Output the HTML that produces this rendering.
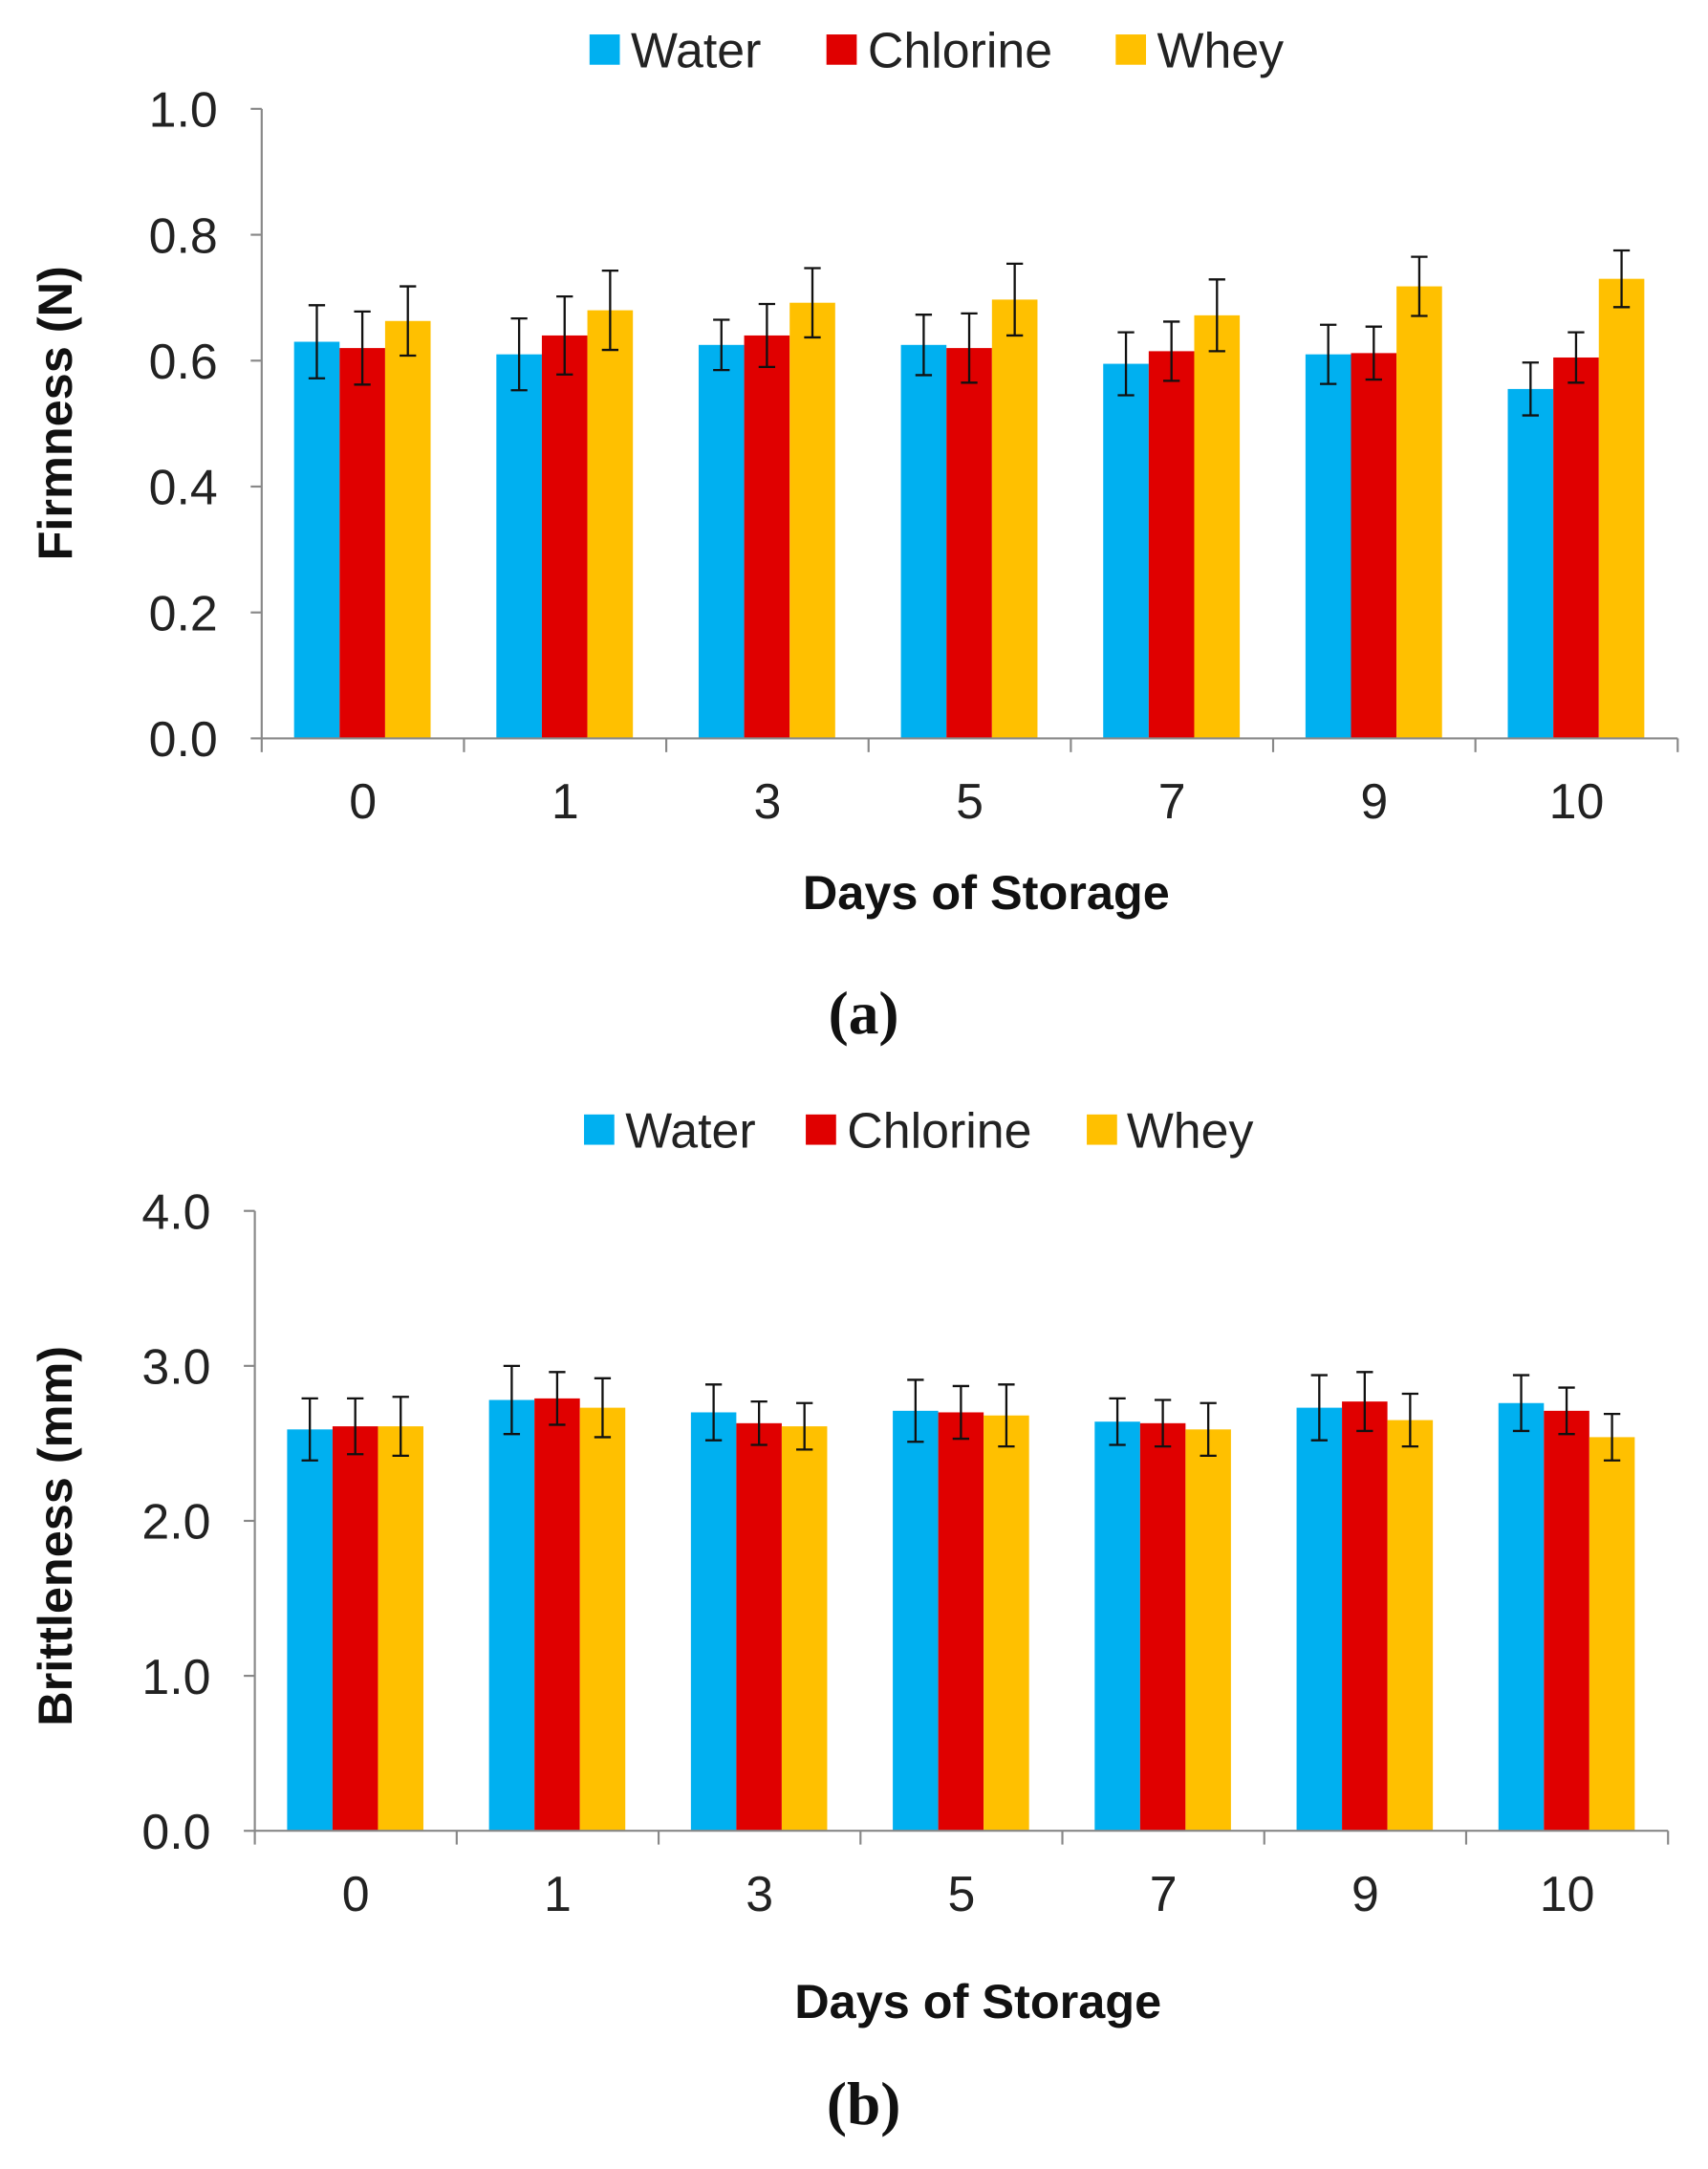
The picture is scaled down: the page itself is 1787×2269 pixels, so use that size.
<!DOCTYPE html>
<html><head><meta charset="utf-8"><style>
html,body{margin:0;padding:0;background:#fff;}
svg{display:block;}
</style></head><body>
<svg id="fig" width="1787" height="2269" viewBox="0 0 1240 1574.5" preserveAspectRatio="none" xmlns="http://www.w3.org/2000/svg" font-family="Liberation Sans, Arial, sans-serif"></svg>
<script>
const categories = ["0","1","3","5","7","9","10"];
const seriesNames = ["Water","Chlorine","Whey"];
const firmWater = [0.63,0.61,0.625,0.625,0.595,0.61,0.555];
const firmChlorine = [0.62,0.64,0.64,0.62,0.615,0.612,0.605];
const firmWhey = [0.663,0.68,0.692,0.697,0.672,0.718,0.73];
const firmWaterErr = [0.058,0.057,0.04,0.048,0.05,0.047,0.042];
const firmChlorineErr = [0.058,0.062,0.05,0.055,0.047,0.042,0.04];
const firmWheyErr = [0.055,0.063,0.055,0.057,0.057,0.047,0.045];
const firmTicks = ["0.0","0.2","0.4","0.6","0.8","1.0"];
const britWater = [2.59,2.78,2.70,2.71,2.64,2.73,2.76];
const britChlorine = [2.61,2.79,2.63,2.70,2.63,2.77,2.71];
const britWhey = [2.61,2.73,2.61,2.68,2.59,2.65,2.54];
const britWaterErr = [0.2,0.22,0.18,0.2,0.15,0.21,0.18];
const britChlorineErr = [0.18,0.17,0.14,0.17,0.15,0.19,0.15];
const britWheyErr = [0.19,0.19,0.15,0.2,0.17,0.17,0.15];
const britTicks = ["0.0","1.0","2.0","3.0","4.0"];

const NS="http://www.w3.org/2000/svg";
const svg=document.getElementById('fig');
const colors=["#00B0F0","#E00000","#FFC000"];
function mk(tag,attrs,parent){const e=document.createElementNS(NS,tag);for(const k in attrs)e.setAttribute(k,attrs[k]);(parent||svg).appendChild(e);return e;}

function chart(cfg){
  const g=mk('g',{});
  
  
  const yS=v=>cfg.y0-(v/cfg.ymax)*(cfg.y0-cfg.y1);
  const step=(cfg.xEnd-cfg.x0)/categories.length;
  const xS=i=>cfg.x0+i*step;
  cfg.legend.forEach((L,i)=>{
    const r=mk('rect',{x:L[0],y:cfg.legY-11,width:22,height:22,fill:colors[i]},g);
    
    
    const t=mk('text',{x:L[1],y:cfg.legY+13,'font-size':36,fill:'#222'},g);
    t.textContent=seriesNames[i];
    
    
  });
  const series=[cfg.s[0],cfg.s[1],cfg.s[2]];
  const errs=[cfg.e[0],cfg.e[1],cfg.e[2]];
  const bw=step*0.225, off=step*0.16;
  categories.forEach((c,i)=>{
    series.forEach((s,j)=>{
      const x=xS(i)+off+j*bw;
      const r=mk('rect',{x:x,y:yS(s[i]),width:bw,height:cfg.y0-yS(s[i]),fill:colors[j]},g);
      
      
      const cx=x+bw/2, hi=yS(s[i]+errs[j][i]), lo=yS(s[i]-errs[j][i]);
      const p=mk('path',{d:`M${cx},${hi}V${lo}M${cx-6},${hi}H${cx+6}M${cx-6},${lo}H${cx+6}`,stroke:'#111','stroke-width':1.6,fill:'none'},g);
      
      
    });
  });
  const ax=mk('path',{d:`M${cfg.x0},${cfg.y1}V${cfg.y0}H${cfg.xEnd}`,stroke:'#888','stroke-width':1.5,fill:'none'},g);
  
  
  cfg.ticks.forEach((t,k)=>{
    const v=parseFloat(t), y=yS(v);
    mk('path',{d:`M${cfg.x0-8},${y}H${cfg.x0}`,stroke:'#888','stroke-width':1.5},g);
    const tx=mk('text',{x:cfg.x0-32,y:y+13,'font-size':36,'text-anchor':'end',fill:'#222'},g);
    tx.textContent=t;
    
    
  });
  for(let i=0;i<=categories.length;i++) mk('path',{d:`M${xS(i)},${cfg.y0}V${cfg.y0+10}`,stroke:'#888','stroke-width':1.5},g);
  categories.forEach((c,i)=>{
    const t=mk('text',{x:xS(i)+step/2,y:cfg.y0+58,'font-size':36,'text-anchor':'middle',fill:'#222'},g);
    t.textContent=c;
    
    
  });
  const xt=mk('text',{x:(cfg.x0+cfg.xEnd)/2+12,y:cfg.xTitleY,'font-size':35,'font-weight':'bold','text-anchor':'middle',fill:'#111'},g);
  xt.textContent='Days of Storage';
  
  
  const yt=mk('text',{x:0,y:0,'font-size':35,'font-weight':'bold','text-anchor':'middle',fill:'#111',transform:`translate(52,${cfg.yTitleY}) rotate(-90)`},g);
  yt.textContent=cfg.yTitle;
  
  
  const lb=mk('text',{x:627,y:cfg.labY,'font-size':44,'font-weight':'bold','text-anchor':'middle',fill:'#111','font-family':'Liberation Serif, serif'},g);
  lb.textContent=cfg.lab;
  
  
}
chart({name:'chart-firmness',x0:190,xEnd:1218,y0:536,y1:79,ymax:1.0,ticks:firmTicks,
  s:[firmWater,firmChlorine,firmWhey],e:[firmWaterErr,firmChlorineErr,firmWheyErr],
  legY:36,legend:[[428,458],[600,630],[810,840]],xTitleY:660,yTitle:'Firmness (N)',yTitleY:300,lab:'(a)',labY:750});
chart({name:'chart-brittleness',x0:185,xEnd:1211,y0:1329,y1:879,ymax:4.0,ticks:britTicks,
  s:[britWater,britChlorine,britWhey],e:[britWaterErr,britChlorineErr,britWheyErr],
  legY:820,legend:[[424,454],[585,615],[789,818]],xTitleY:1465,yTitle:'Brittleness (mm)',yTitleY:1115,lab:'(b)',labY:1542});
</script>
</body></html>
